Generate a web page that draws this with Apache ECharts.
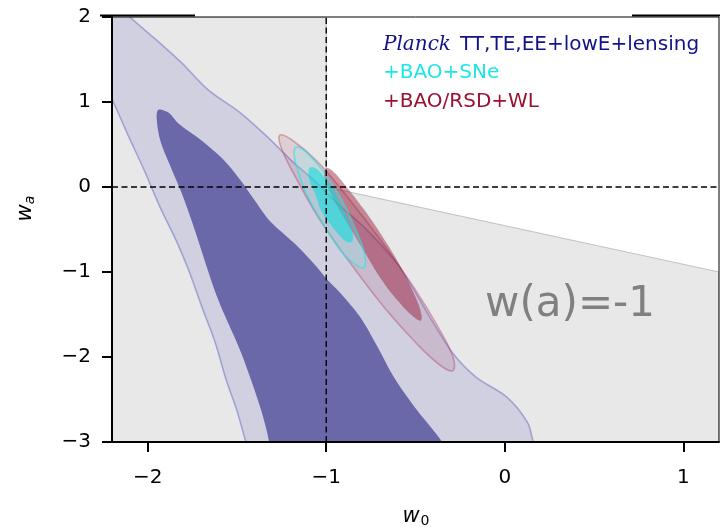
<!DOCTYPE html>
<html>
<head>
<meta charset="utf-8">
<script src="https://cdn.jsdelivr.net/npm/echarts@6/dist/echarts.min.js"></script>
<style>html,body{margin:0;padding:0;background:#fff}#c{width:720px;height:527px}</style>
</head>
<body>
<div id="c"></div>
<script>
// ---- data ----
const xTicks = [-2, -1, 0, 1];
const yTicks = [-3, -2, -1, 0, 1, 2];
const xRange = [-2.2, 1.2];
const yRange = [-3, 2];
// region where w(a) crosses -1 (gray)
const crossRegion = [[-2.2,2],[-1,2],[-1,0],[1.2,-1.0],[1.2,-3],[-2.2,-3]];
// Planck TT,TE,EE+lowE+lensing contours
const planck95 = [[-2.16,2.14],[-2.10,2.00],[-1.93,1.69],[-1.81,1.46],[-1.66,1.14],[-1.48,0.87],[-1.33,0.59],[-1.18,0.28],[-1.07,0.08],[-0.94,-0.19],[-0.77,-0.51],[-0.59,-0.94],[-0.42,-1.53],[-0.29,-1.96],[-0.16,-2.24],[0.01,-2.47],[0.13,-2.78],[0.16,-3.00],[0.23,-3.28],[-1.41,-3.28],[-1.45,-3.00],[-1.50,-2.63],[-1.56,-2.27],[-1.62,-1.84],[-1.70,-1.39],[-1.77,-0.98],[-1.84,-0.63],[-1.93,-0.24],[-2.02,0.20],[-2.11,0.61],[-2.19,0.99],[-2.26,1.31],[-2.29,2.14]];
const planck68 = [[-1.94,0.91],[-1.88,0.87],[-1.83,0.75],[-1.70,0.55],[-1.57,0.31],[-1.48,0.08],[-1.40,-0.16],[-1.32,-0.39],[-1.18,-0.66],[-1.07,-0.90],[-0.99,-1.10],[-0.92,-1.25],[-0.81,-1.53],[-0.71,-1.89],[-0.62,-2.24],[-0.49,-2.63],[-0.35,-3.00],[-0.28,-3.28],[-1.36,-3.28],[-1.32,-3.00],[-1.46,-2.04],[-1.61,-1.30],[-1.75,-0.42],[-1.81,-0.07],[-1.87,0.23],[-1.93,0.55],[-1.95,0.81]];
// +BAO/RSD+WL contours
const wl95 = [[-0.29,-2.16],[-0.29,-2.00],[-0.37,-1.66],[-0.51,-1.18],[-0.69,-0.64],[-0.88,-0.12],[-1.05,0.30],[-1.19,0.55],[-1.26,0.61],[-1.25,0.45],[-1.17,0.11],[-1.04,-0.37],[-0.86,-0.91],[-0.67,-1.43],[-0.49,-1.85],[-0.36,-2.10]];
const wl68 = [[-0.47,-1.57],[-0.47,-1.47],[-0.51,-1.25],[-0.58,-0.95],[-0.68,-0.60],[-0.79,-0.26],[-0.89,0.01],[-0.96,0.18],[-1.00,0.22],[-1.01,0.12],[-0.97,-0.10],[-0.89,-0.40],[-0.79,-0.75],[-0.69,-1.09],[-0.59,-1.36],[-0.51,-1.53]];
// +BAO+SNe contours
const sne95 = [[-0.79,-0.95],[-0.78,-0.86],[-0.80,-0.68],[-0.85,-0.43],[-0.91,-0.16],[-0.99,0.11],[-1.07,0.32],[-1.13,0.44],[-1.17,0.47],[-1.18,0.38],[-1.16,0.20],[-1.12,-0.04],[-1.05,-0.32],[-0.97,-0.59],[-0.90,-0.80],[-0.83,-0.92]];
const sne68 = [[-0.86,-0.65],[-0.85,-0.60],[-0.86,-0.48],[-0.89,-0.33],[-0.93,-0.15],[-0.97,0.01],[-1.02,0.14],[-1.06,0.22],[-1.09,0.23],[-1.10,0.18],[-1.09,0.06],[-1.06,-0.09],[-1.03,-0.27],[-0.98,-0.43],[-0.93,-0.56],[-0.89,-0.64]];
// reference lines (LCDM)
const vLine = [[-1,-3],[-1,2]];
const hLine = [[-2.2,0],[1.2,0]];
const legendLines = ['TT,TE,EE+lowE+lensing', '+BAO+SNe', '+BAO/RSD+WL'];

// ---- chart ----
const chart = echarts.init(document.getElementById('c'), null, {renderer:'canvas'});
function polySeries(pts, style, smooth) {
  return {
    type:'custom', coordinateSystem:'cartesian2d', clip:true, silent:true,
    data: pts, encode:{x:0, y:1},
    renderItem: function(params, api) {
      if (params.dataIndex !== 0) return null;
      return {type:'polygon', shape:{points: pts.map(p => api.coord(p)), smooth: smooth || 0}, style: style};
    }
  };
}
const fmt = v => String(v).replace('-', '\u2212');
const labelFont = {fontFamily:'DejaVu Sans', fontSize:20, color:'#000'};

const option = {
  animation:false,
  backgroundColor:'#fff',
  grid:{left:112, top:17, right:1, bottom:85, show:true, borderColor:'#000', borderWidth:1, z:10, backgroundColor:'transparent'},
  xAxis:{type:'value', min:xRange[0], max:xRange[1], z:10,
    axisLine:{show:true, onZero:false, lineStyle:{color:'#000', width:2}},
    axisTick:{show:true, length:10, inside:false, customValues:xTicks, lineStyle:{color:'#000', width:2}},
    axisLabel:Object.assign({margin:26, customValues:xTicks, formatter:fmt}, labelFont),
    splitLine:{show:false}},
  yAxis:{type:'value', min:yRange[0], max:yRange[1], z:10,
    axisLine:{show:true, onZero:false, lineStyle:{color:'#000', width:2}},
    axisTick:{show:true, length:10, inside:false, customValues:yTicks, lineStyle:{color:'#000', width:2}},
    axisLabel:Object.assign({margin:21, customValues:yTicks, formatter:fmt}, labelFont),
    splitLine:{show:false}},
  series:[
    polySeries(crossRegion, {fill:'#e8e8e8', stroke:'#c4c4c4', lineWidth:1.2}),
    polySeries(planck95, {fill:'#d0d0e0', stroke:'#a2a2d2', lineWidth:1.6}, 0.3),
    polySeries(planck68, {fill:'#6a68a8'}, 0.3),
    polySeries(wl95, {fill:'rgba(165,35,70,0.12)', stroke:'rgba(175,70,95,0.42)', lineWidth:1.6}, 0.4),
    polySeries(wl68, {fill:'rgba(150,20,50,0.45)'}, 0.4),
    polySeries(sne95, {fill:'rgba(120,240,240,0.25)', stroke:'rgba(40,225,225,0.6)', lineWidth:1.6}, 0.4),
    polySeries(sne68, {fill:'rgba(0,220,220,0.55)'}, 0.4),
    {type:'line', data:vLine, symbol:'none', silent:true, z:12, lineStyle:{color:'#000', width:1.4, type:[6,3.5]}},
    {type:'line', data:hLine, symbol:'none', silent:true, z:12, lineStyle:{color:'#000', width:1.4, type:[6,3.5]}}
  ],
  graphic:[
    {type:'line', shape:{x1:100, y1:15.5, x2:195, y2:15.5}, style:{stroke:'#000', lineWidth:2}, z:20},
    {type:'line', shape:{x1:632, y1:15.5, x2:720, y2:15.5}, style:{stroke:'#000', lineWidth:2}, z:20},
    {type:'text', x:383, y:45, z:20, style:{text:'Planck', font:'italic 20px "DejaVu Serif"', fill:'#12128a', verticalAlign:'middle'}},
    {type:'text', x:460, y:45, z:20, style:{text:legendLines[0], font:'20px "DejaVu Sans"', fill:'#12128a', verticalAlign:'middle'}},
    {type:'text', x:383, y:73, z:20, style:{text:legendLines[1], font:'20px "DejaVu Sans"', fill:'#1ee6e6', verticalAlign:'middle'}},
    {type:'text', x:383, y:102, z:20, style:{text:legendLines[2], font:'20px "DejaVu Sans"', fill:'#9a1232', verticalAlign:'middle'}},
    {type:'text', x:570, y:305, z:20, style:{text:'w(a)=-1', font:'42px "DejaVu Sans"', fill:'#808080', align:'center', verticalAlign:'middle'}},
    {type:'text', x:411, y:517, z:20, style:{text:'w', font:'italic 21px "DejaVu Sans"', fill:'#000', align:'center', verticalAlign:'middle'}},
    {type:'text', x:425, y:521, z:20, style:{text:'0', font:'14px "DejaVu Sans"', fill:'#000', align:'center', verticalAlign:'middle'}},
    {type:'group', x:26, y:209, rotation:Math.PI/2, z:20, children:[
      {type:'text', x:-4, y:0, style:{text:'w', font:'italic 21px "DejaVu Sans"', fill:'#000', align:'center', verticalAlign:'middle'}},
      {type:'text', x:9, y:4, style:{text:'a', font:'italic 14px "DejaVu Sans"', fill:'#000', align:'center', verticalAlign:'middle'}}
    ]}
  ]
};
chart.setOption(option);
</script>
</body>
</html>
